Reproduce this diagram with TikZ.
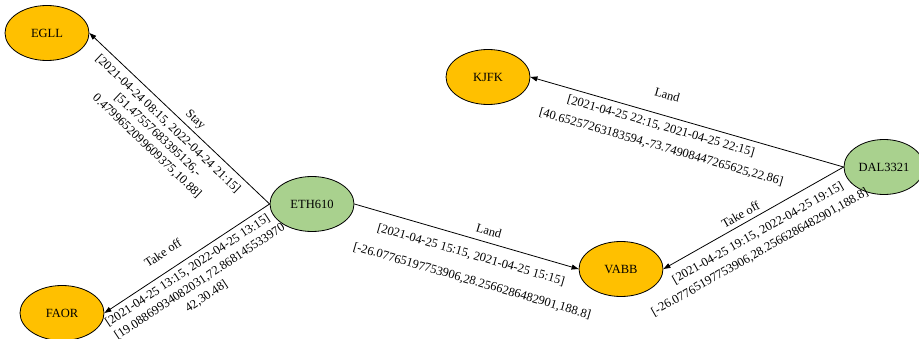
\documentclass[tikz,border=0pt]{standalone}
\usepackage{fontspec}
\setmainfont{Liberation Serif}
\usetikzlibrary{arrows.meta,shapes.geometric}
\definecolor{airportfill}{HTML}{FFC000}
\definecolor{flightfill}{HTML}{A9D18E}
\begin{document}
\begin{tikzpicture}[x=1pt,y=-1pt,
  every node/.style={font=\fontsize{12.5}{15}\selectfont},
  place/.style={ellipse, draw=black, line width=0.8pt, minimum width=84pt,
    minimum height=55pt, inner sep=0pt},
  airport/.style={place, fill=airportfill},
  flight/.style={place, fill=flightfill},
  link/.style={draw=black, line width=0.8pt, -{Triangle[length=7pt,width=5pt]}},
  tag/.style={sloped, inner sep=0pt, anchor=center}
]
\useasboundingbox (0,0) rectangle (919,339);

% airports and flights
\node[airport] (EGLL) at (47,33)  {EGLL};
\node[airport] (FAOR) at (62,313) {FAOR};
\node[airport] (KJFK) at (488,77) {KJFK};
\node[airport] (VABB) at (621,269) {VABB};
\node[flight]  (ETH)  at (312,204) {ETH610};
\node[flight, minimum width=80pt] (DAL) at (884,167) {DAL3321};

% ETH610 -> EGLL
\draw[link] (ETH.west) -- (EGLL.east)
  node[tag, pos=0.45,  yshift=9.5pt]  (a0) {Stay}
  node[tag, pos=0.518, yshift=-12pt]  (a1) {[2021-04-24 08:15, 2022-04-24 21:15]}
  node[tag, pos=0.518, yshift=-27pt]  (a2) {[51.47557683395126,-}
  node[tag, pos=0.518, yshift=-42.5pt](a3) {0.4799652099609375,10.88]};

% ETH610 -> FAOR
\draw[link] (ETH.west) -- (FAOR.east)
  node[tag, pos=0.586, yshift=18pt]   (b0) {Take off}
  node[tag, pos=0.531, yshift=-10.5pt](b1) {[2021-04-25 13:15, 2022-04-25 13:15]}
  node[tag, pos=0.511, yshift=-26.5pt](b2) {[19.08869934082031,72.868145533970}
  node[tag, pos=0.523, yshift=-42.5pt](b3) {42,30.48]};

% ETH610 -> VABB
\draw[link] (ETH.east) -- (VABB.west)
  node[tag, pos=0.586, yshift=11.5pt] (c0) {Land}
  node[tag, pos=0.54,  yshift=-16.5pt](c1) {[2021-04-25 15:15, 2021-04-25 15:15]}
  node[tag, pos=0.576, yshift=-41.5pt](c2) {[-26.07765197753906,28.2566286482901,188.8]};

% DAL3321 -> KJFK
\draw[link] (DAL.west) -- (KJFK.east)
  node[tag, pos=0.581, yshift=20.5pt] (d0) {Land}
  node[tag, pos=0.573, yshift=-11.5pt](d1) {[2021-04-25 22:15, 2021-04-25 22:15]}
  node[tag, pos=0.555, yshift=-31.5pt](d2) {[40.65257263183594,-73.74908447265625,22.86]};

% DAL3321 -> VABB
\draw[link] (DAL.west) -- (VABB.east)
  node[tag, pos=0.546, yshift=9.5pt]  (e0) {Take off}
  node[tag, pos=0.517, yshift=-15.5pt](e1) {[2021-04-25 19:15, 2022-04-25 19:15]}
  node[tag, pos=0.555, yshift=-33pt]  (e2) {[-26.07765197753906,28.2566286482901,188.8]};
\end{tikzpicture}
\end{document}
